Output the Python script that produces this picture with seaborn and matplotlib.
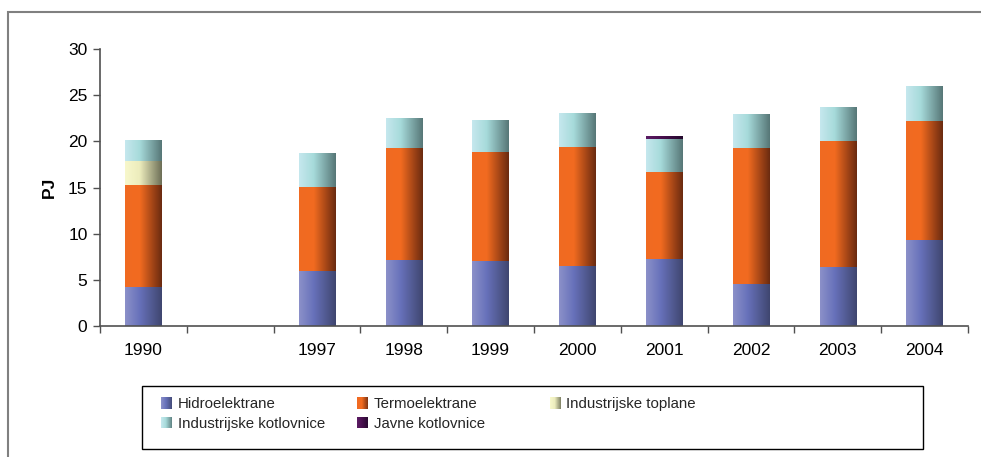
import numpy as np
import pandas as pd
import seaborn as sns
import matplotlib.pyplot as plt
from matplotlib.colors import LinearSegmentedColormap
from matplotlib.patches import Rectangle
from matplotlib.legend_handler import HandlerBase

# dati (PJ), lo slot vuoto tra 1990 e 1997 e' voluto
godine = ['1990', ' ', '1997', '1998', '1999', '2000', '2001', '2002', '2003', '2004']
hidroelektrane = [4.2, 0, 6.0, 7.2, 7.0, 6.5, 7.3, 4.6, 6.4, 9.3]
termoelektrane = [11.1, 0, 9.0, 12.1, 11.85, 12.9, 9.4, 14.7, 13.6, 12.9]
industrijske_toplane = [2.6, 0, 0, 0, 0, 0, 0, 0, 0, 0]
industrijske_kotlovnice = [2.2, 0, 3.6, 3.2, 3.45, 3.6, 3.6, 3.6, 3.6, 3.7]
javne_kotlovnice = [0, 0, 0, 0, 0, 0, 0.25, 0, 0, 0]

serije = ['Hidroelektrane', 'Termoelektrane', 'Industrijske toplane',
          'Industrijske kotlovnice', 'Javne kotlovnice']
vrijednosti = [hidroelektrane, termoelektrane, industrijske_toplane,
               industrijske_kotlovnice, javne_kotlovnice]

# gradijenti (lijevo svijetlo -> desno tamno)
gradijenti = {
    'Hidroelektrane': ['#8c91c9', '#6771ba', '#3f466f'],
    'Termoelektrane': ['#f06a22', '#f26b20', '#6a2a10'],
    'Industrijske toplane': ['#f8f8cc', '#ececbc', '#6c6e56'],
    'Industrijske kotlovnice': ['#c6e8ee', '#a6dada', '#567676'],
    'Javne kotlovnice': ['#5c1c64', '#4a1050', '#24082c'],
}
cmaps = {k: LinearSegmentedColormap.from_list(k, [(0, c[0]), (0.4, c[1]), (1, c[2])])
         for k, c in gradijenti.items()}

sns.set_theme(style='white')
plt.rcParams['font.family'] = ['Liberation Sans', 'DejaVu Sans']

fig = plt.figure(figsize=(9.81, 4.57), dpi=100)
ax = fig.add_axes([100 / 981, 1 - 326 / 457, 868 / 981, 277 / 457])

df = pd.DataFrame({'godina': godine})
dno = np.zeros(len(godine))
grad = np.linspace(0, 1, 256).reshape(1, -1)
for ime, vals in zip(serije, vrijednosti):
    df[ime] = vals
    n_prije = len(ax.patches)
    sns.barplot(data=df, x='godina', y=ime, order=godine, bottom=dno, width=0.42,
                color=gradijenti[ime][1], saturation=1, ax=ax, legend=False)
    for p in ax.patches[n_prije:]:
        x0, y0, w, h = p.get_x(), p.get_y(), p.get_width(), p.get_height()
        p.set_alpha(0)
        if h <= 0:
            continue
        ax.imshow(grad, cmap=cmaps[ime], extent=[x0, x0 + w, y0, y0 + h],
                  aspect='auto', interpolation='bilinear', zorder=2)
    dno = dno + np.array(vals)

ax.set_xlim(-0.5, len(godine) - 0.5)
ax.set_ylim(0, 30)
ax.set_aspect('auto')
ax.set_yticks(range(0, 31, 5))
ax.set_xticks(range(len(godine)))
ax.set_xticklabels(godine)
ax.set_xticks(np.arange(-0.5, len(godine), 1), minor=True)
ax.tick_params(axis='x', which='major', length=0, pad=12, labelsize=12.5, colors='black')
ax.tick_params(axis='x', which='minor', length=5, width=1, color='#505050', direction='out', bottom=True)
ax.tick_params(axis='y', length=5, width=1, color='#505050', direction='out', left=True,
               labelsize=12.5, pad=4, labelcolor='black')
ax.set_xlabel('')
ax.set_ylabel('PJ', fontsize=12.5, fontweight='bold', labelpad=8, color='black')
for s in ['top', 'right']:
    ax.spines[s].set_visible(False)
for s in ['left', 'bottom']:
    ax.spines[s].set_color('#505050')
    ax.spines[s].set_linewidth(1.2)
ax.grid(False)


# legenda s gradijentnim kvadraticima
class GradientHandler(HandlerBase):
    def __init__(self, cmap):
        super().__init__()
        self.cmap = cmap

    def create_artists(self, legend, orig_handle, xdescent, ydescent, width, height, fontsize, trans):
        size = min(width, height)
        n = 12
        out = []
        for i in range(n):
            r = Rectangle((-xdescent + i * size / n, -ydescent + (height - size) / 2),
                          size / n, size, facecolor=self.cmap((i + 0.5) / n),
                          edgecolor='none', transform=trans)
            out.append(r)
        return out


stupci = [[0, 3], [1, 4], [2]]
x_stupci = [161, 357, 550]
for idx, xs in zip(stupci, x_stupci):
    ruke = [Rectangle((0, 0), 1, 1, label=serije[i]) for i in idx]
    fig.legend(handles=ruke, labels=[serije[i] for i in idx],
               handler_map={r: GradientHandler(cmaps[serije[i]]) for r, i in zip(ruke, idx)},
               loc='upper left', bbox_to_anchor=(xs / 981, 1 - 397 / 457),
               bbox_transform=fig.transFigure, frameon=False, borderpad=0, borderaxespad=0,
               handlelength=0.8, handleheight=0.8, handletextpad=0.3,
               labelspacing=0.38, fontsize=10.8)

# okvir legende i vanjski okvir
fig.patches.append(Rectangle((142 / 981, 1 - 449 / 457), 781 / 981, 63 / 457,
                             transform=fig.transFigure, fill=False, edgecolor='black', lw=1))
fig.patches.append(Rectangle((8 / 981, -0.2), 1.5, 1.2 - 12 / 457,
                             transform=fig.transFigure, fill=False, edgecolor='#808080', lw=1.5))

fig.savefig('out.png', dpi=100)
